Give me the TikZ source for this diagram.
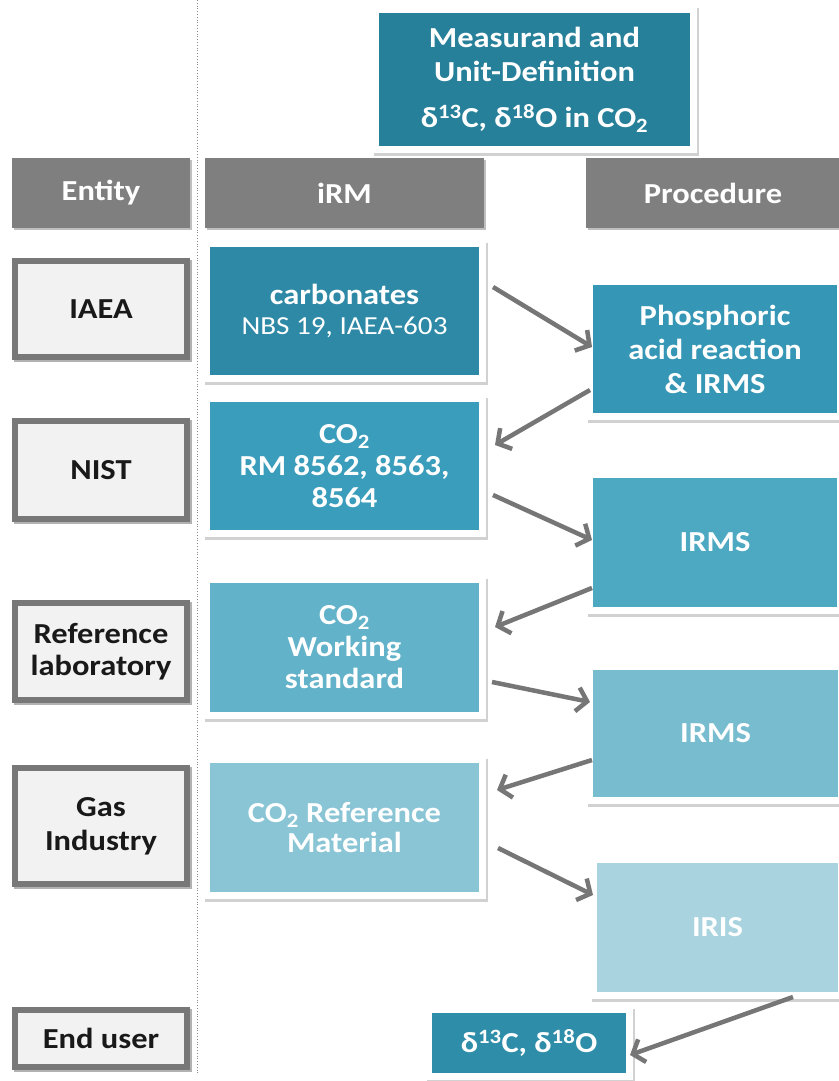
\documentclass[tikz,border=0pt]{standalone}
\usepackage{fontspec}
\setmainfont{Carlito}[FakeStretch=1.12]
\usetikzlibrary{arrows.meta,calc}
\definecolor{cMeas}{HTML}{27809A}
\definecolor{cCarb}{HTML}{2E89A6}
\definecolor{cRes}{HTML}{2E8DA9}
\definecolor{cRM}{HTML}{3A9DBB}
\definecolor{cPhos}{HTML}{3597B5}
\definecolor{cIrmsA}{HTML}{4DA8C2}
\definecolor{cWS}{HTML}{62B2CA}
\definecolor{cIrmsB}{HTML}{78BCD0}
\definecolor{cRefM}{HTML}{8AC5D6}
\definecolor{cIris}{HTML}{A8D3DF}
\definecolor{hdrgray}{HTML}{7F7F7F}
\definecolor{entgray}{HTML}{787878}
\definecolor{entfill}{HTML}{F2F2F2}
\definecolor{arrgray}{HTML}{767676}
\begin{document}
\begin{tikzpicture}[x=1pt,y=-1pt,
  font=\fontsize{29}{34}\selectfont\bfseries,
  every node/.style={inner sep=0pt, outer sep=0pt, align=center},
  tbox/.style={rectangle, text=white, draw=white, line width=7pt,
    preaction={draw=black!18, fill=black!18, line width=7pt,
      transform canvas={shift={(1.5pt,-2.5pt)}}}},
  hdr/.style={rectangle, fill=hdrgray, text=white,
    preaction={fill=black!25, transform canvas={shift={(1.5pt,-2pt)}}}},
  ent/.style={rectangle, draw=entgray, fill=entfill, line width=6pt, text=black!90,
    minimum width=172pt,
    preaction={draw=black!30, line width=6pt, transform canvas={shift={(1.5pt,-2pt)}}}},
  arr/.style={draw=arrgray, line width=4.5pt, -{Straight Barb[length=10pt,width=24pt]}}
]
\useasboundingbox (0,0) rectangle (838,1081);
\fill[white] (0,0) rectangle (838,1081);

% dotted separator
\coordinate (sepTop) at (197,0);
\coordinate (sepBot) at (197,1075);
\draw[black!45, dotted, line width=0.8pt] (sepTop) -- (sepBot);

% top box
\node[tbox, fill=cMeas, minimum width=318pt, minimum height=140pt] (meas) at (534.5,79.5)
  {Measurand and\\Unit-Definition\\[12pt]δ\textsuperscript{13}C, δ\textsuperscript{18}O in CO\textsubscript{2}};

% headers
\node[hdr, minimum width=178pt, minimum height=70pt] (hEnt) at (101,193) {Entity};
\node[hdr, minimum width=279pt, minimum height=70pt] (hIRM) at (344.5,193) {iRM};
\node[hdr, minimum width=254pt, minimum height=70pt] (hProc) at (713,193) {Procedure};

% entity boxes
\node[ent, minimum height=96pt] (iaea) at (101,309) {IAEA};
\node[ent, minimum height=98pt] (nist) at (101,470) {NIST};
\node[ent, minimum height=97pt] (rlab) at (101,651.5) {Reference\\[-2pt]laboratory};
\node[ent, minimum height=116pt] (gas) at (101,826) {Gas\\Industry};
\node[ent, minimum height=57pt] (endu) at (101,1038.5) {End user};

% iRM boxes
\node[tbox, fill=cCarb, minimum width=276pt, minimum height=135pt] (carb) at (344.5,311)
  {carbonates\\[-4pt]{\mdseries\fontsize{26}{30}\selectfont NBS 19, IAEA-603}};
\node[tbox, fill=cRM, minimum width=276pt, minimum height=135pt] (co2rm) at (344.5,466)
  {CO\textsubscript{2}\\[-2pt]RM 8562, 8563,\\[-2pt]8564};
\node[tbox, fill=cWS, minimum width=276pt, minimum height=136pt] (ws) at (344.5,647.5)
  {CO\textsubscript{2}\\[-2pt]Working\\[-2pt]standard};
\node[tbox, fill=cRefM, minimum width=276pt, minimum height=136pt] (refmat) at (344.5,827.5)
  {CO\textsubscript{2} Reference\\[-4pt]Material};

% procedure boxes
\node[tbox, fill=cPhos, minimum width=251pt, minimum height=135pt] (phos) at (715,349)
  {Phosphoric\\acid reaction\\\& IRMS};
\node[tbox, fill=cIrmsA, minimum width=251pt, minimum height=136pt] (irmsA) at (715,542.5) {IRMS};
\node[tbox, fill=cIrmsB, minimum width=252pt, minimum height=134pt] (irmsB) at (715.5,733.5) {IRMS};
\node[tbox, fill=cIris, minimum width=248pt, minimum height=136pt] (iris) at (717.5,927.5) {IRIS};

% result box
\node[tbox, fill=cRes, minimum width=201pt, minimum height=67pt] (res) at (529,1043)
  {δ\textsuperscript{13}C, δ\textsuperscript{18}O};

% arrows
\draw[arr] ($(carb.east)+(10.5,-24)$) -- ($(phos.west)+(2.5,-2)$);
\draw[arr] ($(phos.west)+(0.5,41)$) -- ($(co2rm.east)+(12.5,-21)$);
\draw[arr] ($(co2rm.east)+(10.5,29)$) -- ($(irmsA.west)+(2.5,-2.5)$);
\draw[arr] ($(irmsA.west)+(2.5,45.5)$) -- ($(ws.east)+(12.5,-20.5)$);
\draw[arr] ($(ws.east)+(9.5,34.5)$) -- ($(irmsB.west)+(0.5,-31.5)$);
\draw[arr] ($(irmsB.west)+(2.5,26.5)$) -- ($(refmat.east)+(14.5,-37.5)$);
\draw[arr] ($(refmat.east)+(15.5,20.5)$) -- ($(iris.west)+(-0.5,-32.5)$);
\draw[arr] ($(iris.south)+(75.5,1.5)$) -- ($(res.east)+(0.5,12)$);
\end{tikzpicture}
\end{document}
